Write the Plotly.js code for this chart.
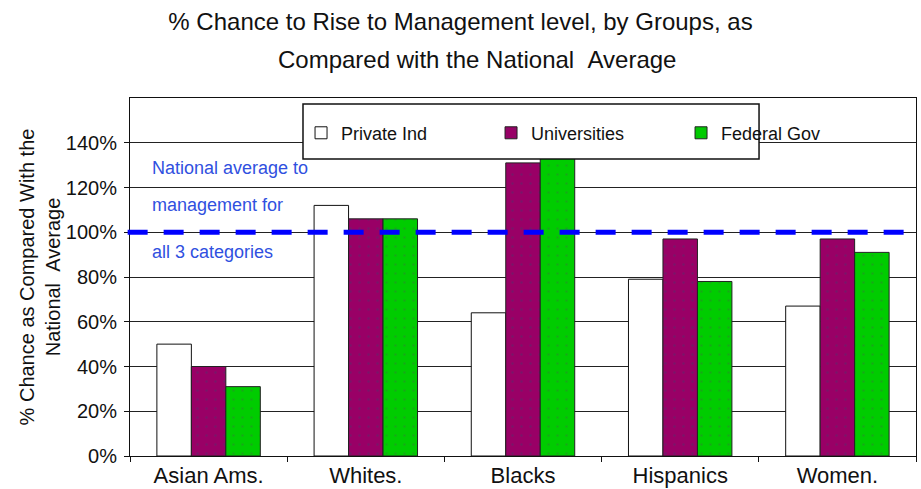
<!DOCTYPE html>
<html>
<head>
<meta charset="utf-8">
<script src="https://cdn.plot.ly/plotly-3.0.1.min.js"></script>
<style>html,body{margin:0;padding:0;background:#fff;}#chart{width:921px;height:489px;}</style>
</head>
<body>
<div id="chart"></div>
<script>
const categories = ['Asian Ams.', 'Whites.', 'Blacks', 'Hispanics', 'Women.'];
const privateInd = [50, 112, 64, 79, 67];
const universities = [40, 106, 131, 97, 97];
const federalGov = [31, 106, 135, 78, 91];
const seriesNames = ['Private Ind', 'Universities', 'Federal Gov'];
const yTickVals = [0, 20, 40, 60, 80, 100, 120, 140];
const yTickText = ['0%', '20%', '40%', '60%', '80%', '100%', '120%', '140%'];
const nationalAverage = 100;
const noteLines = ['National average to', 'management for', 'all 3 categories'];
const noteY = [128.7, 112.2, 91.2];

const font = 'Arial, "Liberation Sans", sans-serif';

const traces = [
  {type: 'bar', name: seriesNames[0], x: categories, y: privateInd,
   marker: {color: '#ffffff', line: {color: '#111', width: 1}}},
  {type: 'bar', name: seriesNames[1], x: categories, y: universities,
   marker: {color: '#990066', line: {color: '#222', width: 1},
            pattern: {shape: '.', fillmode: 'overlay', bgcolor: '#990066', fgcolor: '#5a2a6a', size: 9, solidity: 0.06}}},
  {type: 'bar', name: seriesNames[2], x: categories, y: federalGov,
   marker: {color: '#00cc00', line: {color: '#222', width: 1},
            pattern: {shape: '.', fillmode: 'overlay', bgcolor: '#00cc00', fgcolor: '#2a8a2a', size: 9, solidity: 0.06}}}
];

const annotations = noteLines.map((t, i) => ({
  text: t, xref: 'paper', yref: 'y', x: 0.0254, y: noteY[i],
  xanchor: 'left', yanchor: 'middle', showarrow: false,
  font: {family: font, size: 18, color: '#3050e0'}
}));
annotations.push({
  text: 'Compared with the National &nbsp;Average', xref: 'paper', yref: 'paper',
  x: 0.441, y: 1 + (98 - 60) / 358, xanchor: 'center', yanchor: 'middle', showarrow: false,
  font: {family: font, size: 24, color: '#111'}
});

const layout = {
  width: 921, height: 489,
  margin: {l: 130, r: 5, t: 98, b: 33},
  paper_bgcolor: '#fff', plot_bgcolor: '#fff',
  font: {family: font, color: '#111'},
  title: {text: '% Chance to Rise to Management level, by Groups, as',
          x: 0.5, xanchor: 'center', y: 1 - 22 / 489, yanchor: 'middle',
          font: {family: font, size: 24, color: '#111'}},
  barmode: 'group', bargap: 0.342, bargroupgap: 0,
  xaxis: {type: 'category', showline: true, linecolor: '#111', linewidth: 1, mirror: true,
          ticks: 'outside', ticklen: 5, tickcolor: '#111', tickson: 'boundaries',
          showgrid: false, tickfont: {family: font, size: 22, color: '#111'}},
  yaxis: {range: [0, 160], tickvals: yTickVals, ticktext: yTickText,
          showline: true, linecolor: '#111', linewidth: 1, mirror: true,
          ticks: 'outside', ticklen: 5, tickcolor: '#111',
          showgrid: true, gridcolor: '#222', gridwidth: 1, zeroline: false,
          ticklabelstandoff: 3,
          tickfont: {family: font, size: 20, color: '#111'},
          title: {text: '% Chance as Compared With the<br>National &nbsp;Average',
                  font: {family: font, size: 20, color: '#111'}}},
  legend: {orientation: 'h', x: 0.2176, xanchor: 'left', y: 0.902, yanchor: 'middle',
           bgcolor: 'rgba(0,0,0,0)', borderwidth: 0, itemwidth: 30,
           entrywidth: 145, entrywidthmode: 'pixels',
           font: {family: font, size: 18, color: '#111'}},
  shapes: [
    {type: 'line', xref: 'paper', yref: 'y', x0: -0.003, x1: 1, y0: nationalAverage, y1: nationalAverage,
     line: {color: '#0000ff', width: 5, dash: '20px,16px'}, layer: 'above'},
    {type: 'rect', xref: 'paper', yref: 'paper', x0: 0.2201, x1: 0.8003, y0: 0.8296, y1: 0.9832,
     fillcolor: '#ffffff', line: {color: '#111', width: 1.5}, layer: 'above'}
  ],
  annotations: annotations,
  showlegend: true
};

Plotly.newPlot('chart', traces, layout, {displayModeBar: false, staticPlot: true});
</script>
</body>
</html>
